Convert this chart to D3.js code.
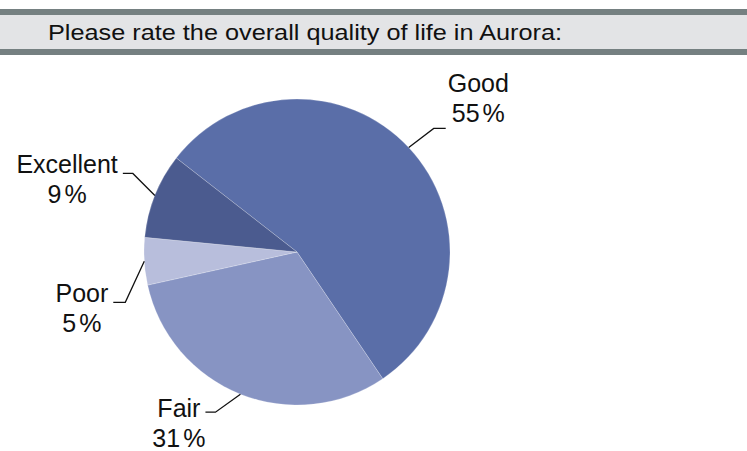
<!DOCTYPE html>
<html>
<head>
<meta charset="utf-8">
<script src="https://cdn.jsdelivr.net/npm/d3@7"></script>
<style>
  body { margin: 0; background: #fff; }
  text { font-family: "Liberation Sans", Arial, sans-serif; fill: #111; }
</style>
</head>
<body>
<svg></svg>
<script>
const categories = ['Good', 'Fair', 'Poor', 'Excellent'];
const values = [55, 31, 5, 9];
const colors = ['#5a6ea8', '#8794c3', '#b8bedc', '#4b5b8f'];
const title = 'Please rate the overall quality of life in Aurora:';

const width = 747;
const height = 451;
const cx = 297, cy = 252, radius = 153;

const svg = d3.select('svg')
  .attr('width', width)
  .attr('height', height);

// header band
svg.append('rect').attr('x', 0).attr('y', 9).attr('width', width).attr('height', 46).attr('fill', '#758081');
svg.append('rect').attr('x', 0).attr('y', 15).attr('width', width).attr('height', 34).attr('fill', '#e3e4e6');
svg.append('text')
  .attr('x', 48)
  .attr('y', 40)
  .attr('font-size', '22.5px')
  .attr('textLength', 514)
  .attr('lengthAdjust', 'spacingAndGlyphs')
  .text(title);

const data = categories.map((c, i) => ({ name: c, value: values[i], color: colors[i] }));

const pie = d3.pie()
  .value(d => d.value)
  .sort(null)
  .startAngle(-52.1 * Math.PI / 180)
  .endAngle((360 - 52.1) * Math.PI / 180);

const arc = d3.arc().innerRadius(0).outerRadius(radius);

const g = svg.append('g').attr('transform', `translate(${cx},${cy})`);
const arcs = pie(data);

g.selectAll('path')
  .data(arcs)
  .enter().append('path')
    .attr('d', arc)
    .attr('fill', d => d.data.color)
    .attr('stroke', 'rgba(255,255,255,0.35)')
    .attr('stroke-width', 0.6);

// leader layout: elbow offset from slice edge, horizontal run, text placement
const layout = {
  Good:      { ex: 25, ey: -19, run: 12,  side: 'right', dy: -36 },
  Fair:      { ex: -25, ey: 18, run: -10, side: 'left', dy: 5 },
  Poor:      { ex: -19, ey: 41, run: -12, side: 'left', dy: 0 },
  Excellent: { ex: -22, ey: -22, run: -10, side: 'left', dy: 0 }
};

const labels = svg.append('g');

arcs.forEach(d => {
  const L = layout[d.data.name];
  const a = (d.startAngle + d.endAngle) / 2;
  const p0 = [cx + radius * Math.sin(a), cy - radius * Math.cos(a)];
  const p1 = [p0[0] + L.ex, p0[1] + L.ey];
  const p2 = [p1[0] + L.run, p1[1]];

  labels.append('path')
    .attr('d', d3.line()([p0, p1, p2]))
    .attr('fill', 'none')
    .attr('stroke', '#111')
    .attr('stroke-width', 1.3);

  const name = labels.append('text')
    .attr('font-size', '25px')
    .attr('y', p2[1] + L.dy)
    .text(d.data.name);

  let centerX;
  if (L.side === 'right') {
    name.attr('x', p2[0] + 2).attr('text-anchor', 'start');
    centerX = p2[0] + 2 + name.node().getComputedTextLength() / 2;
  } else {
    name.attr('x', p2[0] - 5).attr('text-anchor', 'end');
    centerX = p2[0] - 5 - name.node().getComputedTextLength() / 2;
  }

  const pct = labels.append('text')
    .attr('font-size', '25px')
    .attr('x', centerX)
    .attr('y', p2[1] + L.dy + 30)
    .attr('text-anchor', 'middle');
  pct.append('tspan').text(d.data.value);
  pct.append('tspan').attr('dx', 3).text('%');
});
</script>
</body>
</html>
